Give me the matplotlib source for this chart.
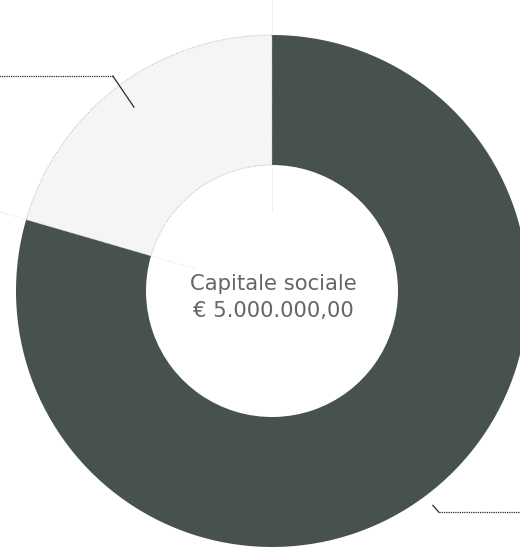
import numpy as np
import matplotlib.pyplot as plt

# Quote del capitale sociale
shares = [79.5, 20.5]
colors = ['#47514f', '#f5f5f5']
center_text = ['Capitale sociale', '€ 5.000.000,00']

R_OUT = 256
R_IN = 126

fig = plt.figure(figsize=(5.2, 5.5), dpi=100)
ax = fig.add_axes([0, 0, 1, 1])

wedges, _ = ax.pie(shares, colors=colors, startangle=90, counterclock=False,
                   radius=R_OUT, wedgeprops=dict(width=R_OUT - R_IN, linewidth=0))

# dotted outline of the light slice
light = wedges[1]
light.set_edgecolor('#b5b5b5')
light.set_linestyle((0, (1, 1.5)))
light.set_linewidth(0.7)

# faint construction lines along the slice boundaries
for ang in [wedges[0].theta1, wedges[0].theta2]:
    a = np.deg2rad(ang)
    r = np.array([80, 292])
    ax.plot(r * np.cos(a), r * np.sin(a), color='#cfcfcf', lw=0.6,
            ls=(0, (1, 2)), zorder=0)

# leader lines
def leader(w, r0, dx, dy, xend):
    a = np.deg2rad((w.theta1 + w.theta2) / 2)
    x0, y0 = r0 * np.cos(a), r0 * np.sin(a)
    x1, y1 = x0 + dx, y0 + dy
    ax.plot([x0, x1], [y0, y1], color='#2a2a2a', lw=0.9)
    ax.plot([x1, xend], [y1, y1], color='#2a2a2a', lw=0.9, ls=(0, (1, 0.8)))

leader(wedges[1], 230, -21, 31, -300)
leader(wedges[0], 268, 6, -7, 300)

ax.text(1, 1, center_text[0], ha='center', va='baseline', fontsize=15.2,
        color='#626866', family='DejaVu Sans')
ax.text(1, -26, center_text[1], ha='center', va='baseline', fontsize=15.2,
        color='#626866', family='DejaVu Sans')

ax.set_xlim(-272, 248)
ax.set_ylim(-259, 291)
ax.set_aspect('equal')
ax.axis('off')

fig.savefig('out.png', dpi=100)
